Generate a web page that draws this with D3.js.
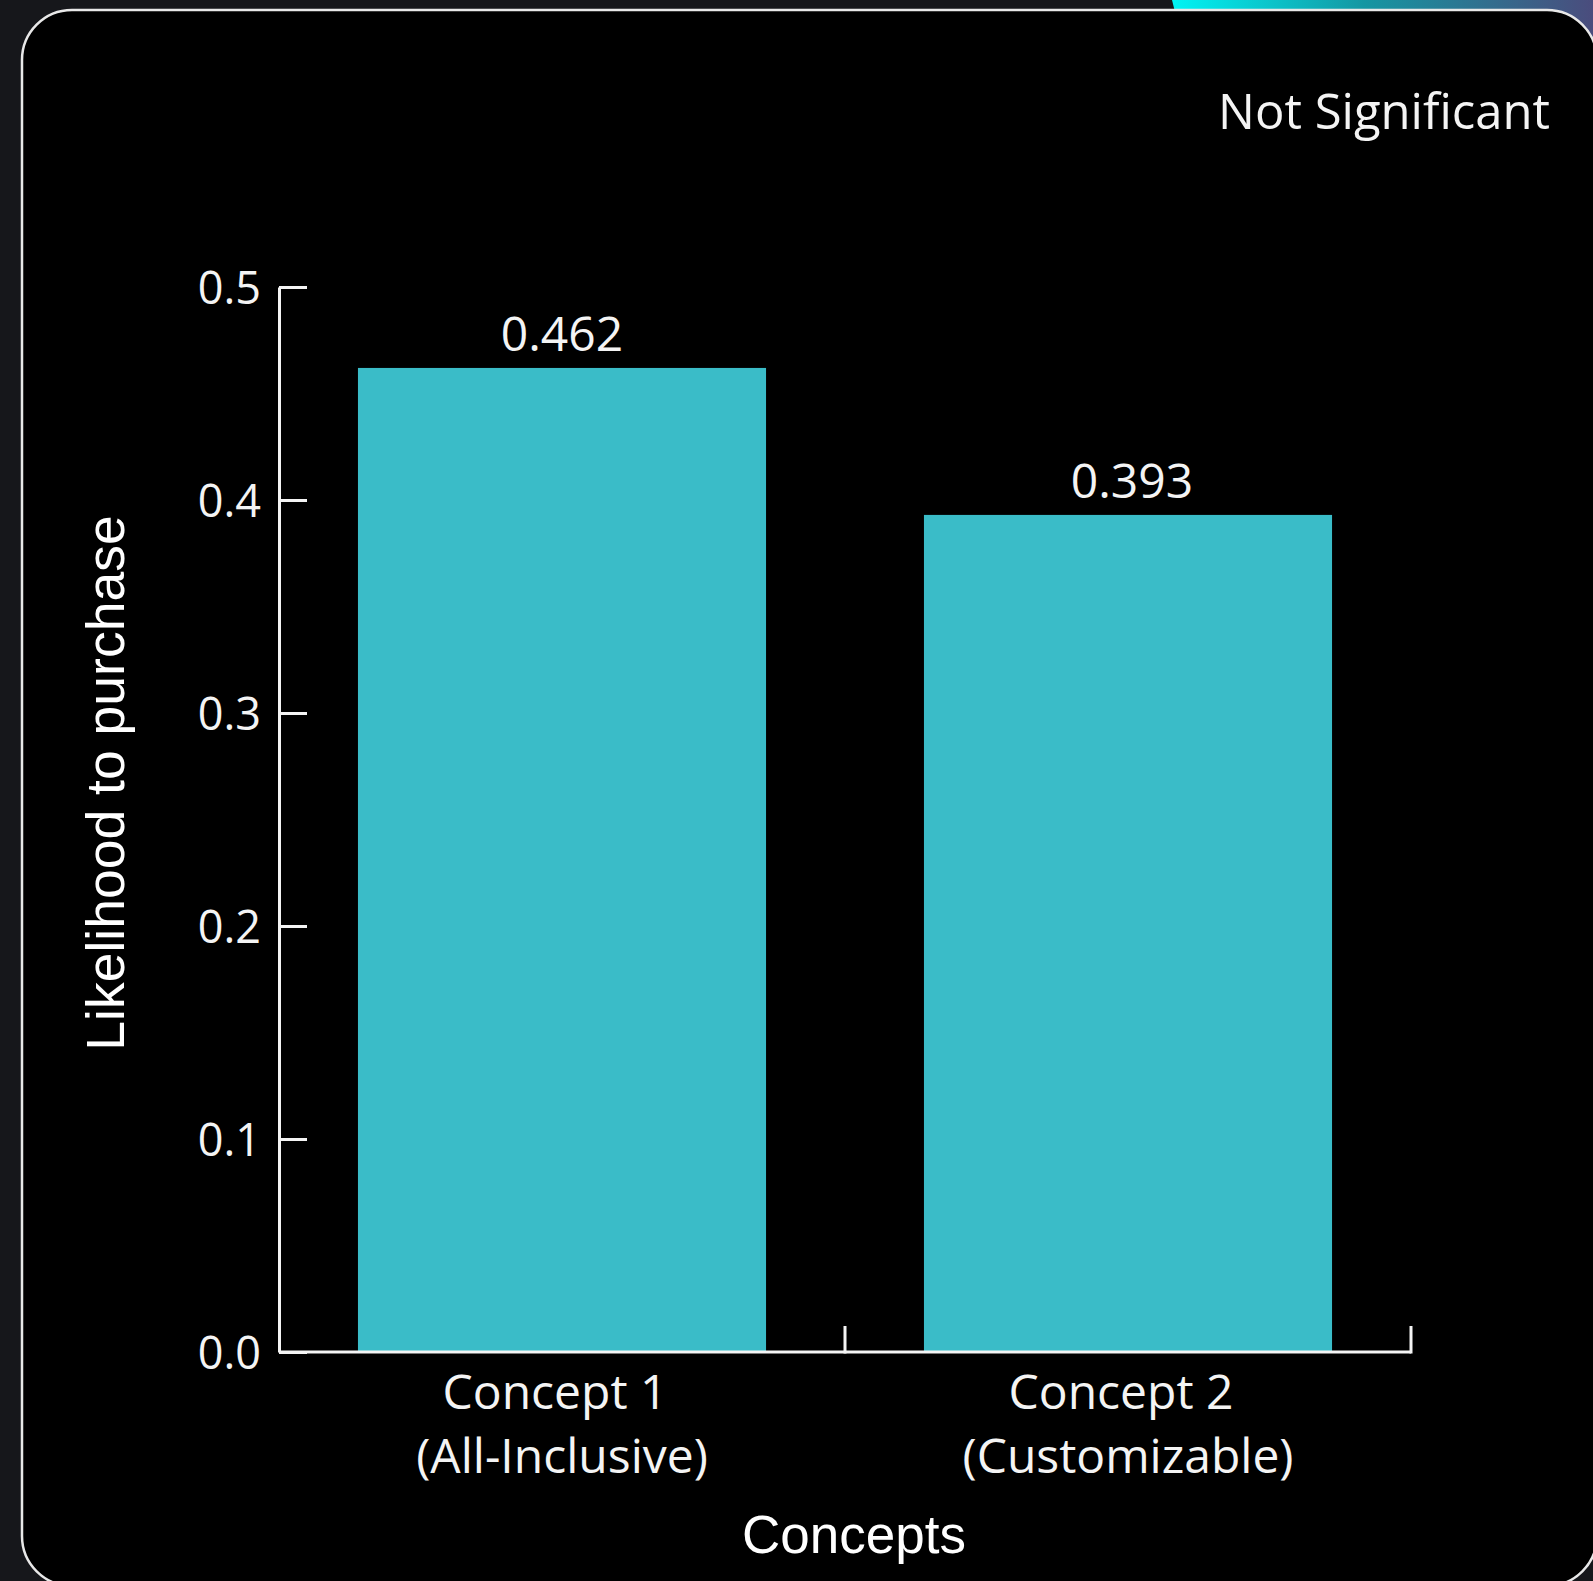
<!DOCTYPE html>
<html>
<head>
<meta charset="utf-8">
<script src="https://cdn.jsdelivr.net/npm/d3@7"></script>
<style>
  html, body { margin: 0; padding: 0; background: #16171b; }
  svg { display: block; }
</style>
</head>
<body>
<svg id="chart" width="1593" height="1581"></svg>
<script>
// Purchase likelihood by concept
const categories = ["Concept 1", "Concept 2"];
const subtitles = ["(All-Inclusive)", "(Customizable)"];
const values = [0.462, 0.393];
const valueLabels = ["0.462", "0.393"];
const yTicks = [0.0, 0.1, 0.2, 0.3, 0.4, 0.5];
const significanceNote = "Not Significant";
const yTitle = "Likelihood to purchase";
const xTitle = "Concepts";

const W = 1593, H = 1581;
const svg = d3.select("#chart");

// Accent strip peeking above the card
const defs = svg.append("defs");
const grad = defs.append("linearGradient").attr("id", "accent")
  .attr("x1", "0%").attr("x2", "100%").attr("y1", "0%").attr("y2", "0%");
grad.append("stop").attr("offset", "0%").attr("stop-color", "#00f4f4");
grad.append("stop").attr("offset", "45%").attr("stop-color", "#1596a2");
grad.append("stop").attr("offset", "100%").attr("stop-color", "#4c4a7c");
svg.append("path")
  .attr("d", "M1172,0 L1600,0 L1600,40 L1182,40 Z")
  .attr("fill", "url(#accent)");

// Card
svg.append("rect")
  .attr("x", 22).attr("y", 10)
  .attr("width", 1575).attr("height", 1576)
  .attr("rx", 50).attr("ry", 50)
  .attr("fill", "#000")
  .attr("stroke", "#e8e8e8").attr("stroke-width", 2.5);

const sansUI = "'Open Sans', 'Noto Sans', sans-serif";
const sansTitle = "'Liberation Sans', Arial, sans-serif";
const ink = "#f4f4f4";
const barColor = "#3abcc8";

// Scales
const pad = 0.279;
const x = d3.scaleBand()
  .domain(categories)
  .range([279, 1411])
  .paddingInner(pad)
  .paddingOuter(pad / 2);

const y = d3.scaleLinear()
  .domain([0, 0.5])
  .range([1352, 287]);

const g = svg.append("g");

// Bars
g.selectAll("rect.bar")
  .data(categories)
  .join("rect")
  .attr("class", "bar")
  .attr("x", d => x(d))
  .attr("width", x.bandwidth())
  .attr("y", (d, i) => y(values[i]))
  .attr("height", (d, i) => y(0) - y(values[i]))
  .attr("fill", barColor);

// Value labels above bars
g.selectAll("text.val")
  .data(categories)
  .join("text")
  .attr("class", "val")
  .attr("x", (d, i) => x(d) + x.bandwidth() / 2 + (i === 1 ? 4 : 0))
  .attr("y", (d, i) => y(values[i]) - 17)
  .attr("text-anchor", "middle")
  .attr("font-family", sansUI)
  .attr("font-size", 48)
  .attr("fill", ink)
  .text((d, i) => valueLabels[i]);

// Y axis with inward ticks
const yAxis = d3.axisLeft(y)
  .tickValues(yTicks)
  .tickFormat(d3.format(".1f"))
  .tickSizeInner(-28)
  .tickSizeOuter(0)
  .tickPadding(18);

const yg = g.append("g").attr("transform", "translate(279,0)").call(yAxis);
yg.select(".domain").attr("stroke", ink).attr("stroke-width", 3);
yg.selectAll(".tick line").attr("stroke", ink).attr("stroke-width", 3);
yg.selectAll(".tick text")
  .attr("font-family", sansUI)
  .attr("font-size", 45)
  .attr("fill", ink)
  .attr("dy", "0.36em");

// X axis: baseline plus boundary ticks between categories
const [x0, x1] = x.range();
const boundaries = d3.range(1, categories.length + 1).map(i => x0 + i * x.step());
const xg = g.append("g");
xg.append("path")
  .attr("d", `M${x0},${y(0)}H${x1}`)
  .attr("stroke", ink).attr("stroke-width", 3).attr("fill", "none");
xg.selectAll("line.btick")
  .data(boundaries)
  .join("line")
  .attr("class", "btick")
  .attr("x1", d => d).attr("x2", d => d)
  .attr("y1", y(0) + 1.5).attr("y2", y(0) - 26)
  .attr("stroke", ink).attr("stroke-width", 3);

// Category labels (two lines)
const cat = xg.selectAll("text.cat")
  .data(categories)
  .join("text")
  .attr("class", "cat")
  .attr("text-anchor", "middle")
  .attr("font-family", sansUI)
  .attr("font-size", 48)
  .attr("fill", ink);
cat.append("tspan")
  .attr("x", d => x(d) + x.bandwidth() / 2 - 7)
  .attr("y", 1409)
  .text(d => d);
cat.append("tspan")
  .attr("x", d => x(d) + x.bandwidth() / 2)
  .attr("y", 1473)
  .text((d, i) => subtitles[i]);

// Axis titles
svg.append("text")
  .attr("x", 854).attr("y", 1553)
  .attr("text-anchor", "middle")
  .attr("font-family", sansTitle)
  .attr("font-size", 53)
  .attr("fill", "#fff")
  .text(xTitle);

svg.append("text")
  .attr("transform", "translate(124,783) rotate(-90)")
  .attr("text-anchor", "middle")
  .attr("font-family", sansTitle)
  .attr("font-size", 53.5)
  .attr("fill", "#fff")
  .text(yTitle);

// Significance note
svg.append("text")
  .attr("x", 1550).attr("y", 129)
  .attr("text-anchor", "end")
  .attr("font-family", sansUI)
  .attr("font-size", 49)
  .attr("fill", ink)
  .text(significanceNote);
</script>
</body>
</html>
